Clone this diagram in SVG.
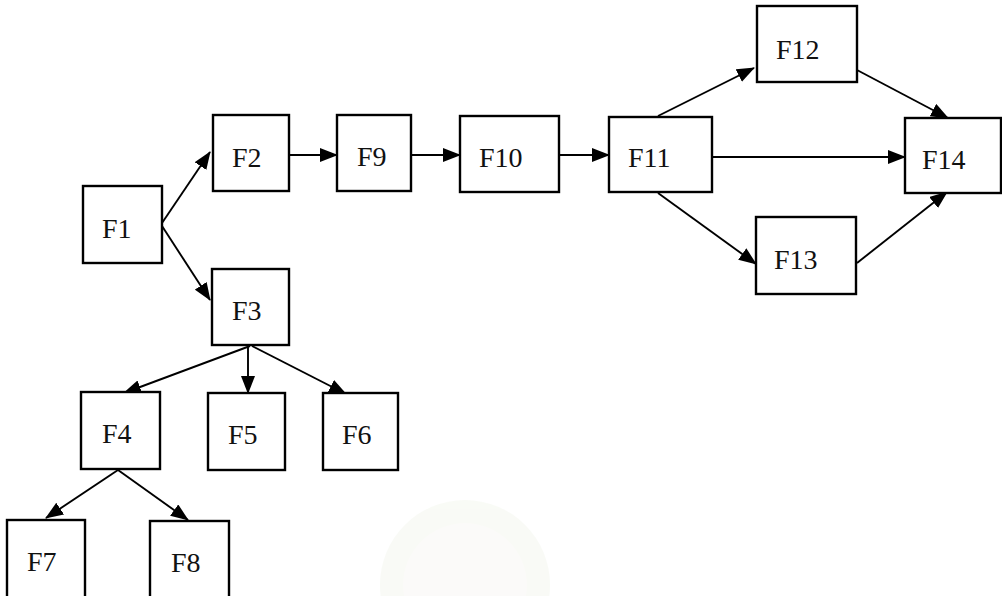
<svg xmlns="http://www.w3.org/2000/svg" width="1002" height="596" viewBox="0 0 1002 596">
<style>
.box{fill:#fff;stroke:#000;stroke-width:2.4}
.lbl{font-family:"Liberation Serif","Times New Roman",serif;font-size:28px;fill:#111}
.edge{stroke:#000;stroke-width:1.9;fill:none;marker-end:url(#ah)}
</style>
<defs>
<marker id="ah" viewBox="0 0 18 14" refX="17" refY="7" markerWidth="18" markerHeight="14" markerUnits="userSpaceOnUse" orient="auto">
<path d="M0,0 L18,7 L0,14 Z" fill="#000"/>
</marker>
</defs>
<rect width="1002" height="596" fill="#fff"/>
<g id="watermark" opacity="0.35">
<circle cx="465" cy="585" r="85" fill="#eef3e6"/>
<circle cx="465" cy="585" r="62" fill="#f6f3ee"/>
</g>
<g id="connectors">
<line class="edge" x1="162" y1="223" x2="210" y2="152"/>
<line class="edge" x1="162" y1="226" x2="210" y2="300"/>
<line class="edge" x1="289" y1="155" x2="337" y2="155"/>
<line class="edge" x1="411" y1="155" x2="460" y2="155"/>
<line class="edge" x1="559" y1="155" x2="609" y2="155"/>
<line class="edge" x1="658" y1="116" x2="754" y2="68"/>
<line class="edge" x1="712" y1="157" x2="905" y2="157"/>
<line class="edge" x1="658" y1="193" x2="756" y2="264"/>
<line class="edge" x1="857" y1="70" x2="948" y2="118"/>
<line class="edge" x1="857" y1="263" x2="947" y2="192"/>
<line class="edge" x1="250" y1="346" x2="124" y2="393"/>
<line class="edge" x1="248" y1="346" x2="248" y2="393"/>
<line class="edge" x1="252" y1="346" x2="346" y2="394"/>
<line class="edge" x1="118" y1="470" x2="46" y2="518"/>
<line class="edge" x1="118" y1="470" x2="188" y2="520"/>
</g>
<g id="F1"><rect class="box" x="83" y="186" width="79" height="77"/><text class="lbl" x="102" y="238">F1</text></g>
<g id="F2"><rect class="box" x="213" y="115" width="76" height="76"/><text class="lbl" x="232" y="167">F2</text></g>
<g id="F3"><rect class="box" x="212" y="269" width="77" height="76"/><text class="lbl" x="232" y="320">F3</text></g>
<g id="F4"><rect class="box" x="81" y="392" width="79" height="77"/><text class="lbl" x="102" y="443">F4</text></g>
<g id="F5"><rect class="box" x="208" y="393" width="77" height="77"/><text class="lbl" x="228" y="444">F5</text></g>
<g id="F6"><rect class="box" x="323" y="393" width="75" height="77"/><text class="lbl" x="342" y="444">F6</text></g>
<g id="F7"><rect class="box" x="7" y="520" width="78" height="82"/><text class="lbl" x="27" y="571">F7</text></g>
<g id="F8"><rect class="box" x="150" y="521" width="79" height="82"/><text class="lbl" x="171" y="572">F8</text></g>
<g id="F9"><rect class="box" x="337" y="115" width="74" height="76"/><text class="lbl" x="357" y="166">F9</text></g>
<g id="F10"><rect class="box" x="460" y="116" width="99" height="76"/><text class="lbl" x="479" y="167">F10</text></g>
<g id="F11"><rect class="box" x="609" y="117" width="103" height="75"/><text class="lbl" x="628" y="167">F11</text></g>
<g id="F12"><rect class="box" x="757" y="6" width="100" height="76"/><text class="lbl" x="776" y="59">F12</text></g>
<g id="F13"><rect class="box" x="756" y="217" width="100" height="77"/><text class="lbl" x="774" y="269">F13</text></g>
<g id="F14"><rect class="box" x="905" y="118" width="96" height="75"/><text class="lbl" x="922" y="169">F14</text></g>
</svg>
